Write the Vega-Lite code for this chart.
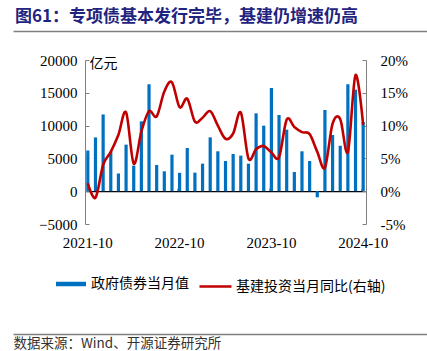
{
  "$schema": "https://vega.github.io/schema/vega-lite/v6.json",
  "width": 281,
  "height": 164,
  "autosize": {"type": "none"},
  "padding": {"left": 85, "top": 60, "right": 61, "bottom": 127},
  "background": "white",
  "config": {"view": {"stroke": null}, "axis": {"grid": false}},
  "title": {
    "text": "图61：专项债基本发行完毕，基建仍增速仍高",
    "anchor": "start",
    "frame": "group",
    "font": "Noto Sans CJK SC",
    "fontSize": 17,
    "fontWeight": "bold",
    "color": "#1F2480",
    "dx": -70,
    "offset": 5
  },
  "data": {
    "values": [
      {"month": "2021-10", "bond": 6200, "infra": 1.2},
      {"month": "2021-11", "bond": 8200, "infra": -1.0},
      {"month": "2021-12", "bond": 11700, "infra": 4.0},
      {"month": "2022-01", "bond": 6000, "infra": 6.0},
      {"month": "2022-02", "bond": 2700, "infra": 8.6},
      {"month": "2022-03", "bond": 7100, "infra": 12.0},
      {"month": "2022-04", "bond": 3900, "infra": 4.2},
      {"month": "2022-05", "bond": 10650, "infra": 9.1},
      {"month": "2022-06", "bond": 16300, "infra": 12.2},
      {"month": "2022-07", "bond": 4000, "infra": 11.4},
      {"month": "2022-08", "bond": 3030, "infra": 15.2},
      {"month": "2022-09", "bond": 5570, "infra": 16.6},
      {"month": "2022-10", "bond": 2800, "infra": 12.8},
      {"month": "2022-11", "bond": 6590, "infra": 14.1},
      {"month": "2022-12", "bond": 2830, "infra": 10.6},
      {"month": "2023-01", "bond": 4200, "infra": 11.2},
      {"month": "2023-02", "bond": 8210, "infra": 12.2},
      {"month": "2023-03", "bond": 6080, "infra": 10.0},
      {"month": "2023-04", "bond": 4600, "infra": 8.0},
      {"month": "2023-05", "bond": 5670, "infra": 8.8},
      {"month": "2023-06", "bond": 5420, "infra": 12.0},
      {"month": "2023-07", "bond": 4200, "infra": 5.0},
      {"month": "2023-08", "bond": 11870, "infra": 6.4},
      {"month": "2023-09", "bond": 9990, "infra": 6.9},
      {"month": "2023-10", "bond": 15730, "infra": 5.9},
      {"month": "2023-11", "bond": 11620, "infra": 5.2},
      {"month": "2023-12", "bond": 9380, "infra": 10.9},
      {"month": "2024-01", "bond": 2930, "infra": 9.8},
      {"month": "2024-02", "bond": 6080, "infra": 9.0},
      {"month": "2024-03", "bond": 4600, "infra": 8.7},
      {"month": "2024-04", "bond": -930, "infra": 6.0},
      {"month": "2024-05", "bond": 12380, "infra": 3.6},
      {"month": "2024-06", "bond": 8570, "infra": 10.3},
      {"month": "2024-07", "bond": 6940, "infra": 11.0},
      {"month": "2024-08", "bond": 16300, "infra": 6.0},
      {"month": "2024-09", "bond": 15480, "infra": 17.7},
      {"month": "2024-10", "bond": 10550, "infra": 10.1}
    ]
  },
  "layer": [
    {
      "layer": [
        {
          "mark": {"type": "bar", "size": 3.2},
          "encoding": {
            "x": {
              "field": "month",
              "type": "ordinal",
              "sort": null,
              "scale": {"paddingInner": 0.5, "paddingOuter": 0.12},
              "axis": {
                "orient": "bottom",
                "offset": -32.8,
                "values": ["2022-10", "2023-10", "2024-10"],
                "bandPosition": 0,
                "labels": false,
                "title": null,
                "domainColor": "#000000",
                "domainWidth": 1.2,
                "tickColor": "#999999",
                "tickSize": -3
              }
            },
            "y": {
              "field": "bond",
              "type": "quantitative",
              "scale": {"domain": [-5000, 20000], "nice": false, "zero": false},
              "axis": {
                "orient": "left",
                "values": [-5000, 0, 5000, 10000, 15000, 20000],
                "format": "d",
                "domainColor": "#808080",
                "tickColor": "#808080",
                "tickSize": -4,
                "labelPadding": 12,
                "labelFont": "Liberation Serif",
                "labelFontSize": 15,
                "labelColor": "#000000",
                "title": "亿元",
                "titleAngle": 0,
                "titleX": 4,
                "titleY": 3,
                "titleAlign": "left",
                "titleBaseline": "middle",
                "titleFont": "Noto Sans CJK SC",
                "titleFontSize": 14,
                "titleFontWeight": "normal",
                "titleColor": "#000000"
              }
            },
            "color": {
              "datum": "政府债券当月值",
              "scale": {"range": ["#0070C0"]},
              "legend": {
                "orient": "none",
                "legendX": -29,
                "legendY": 209,
                "title": null,
                "padding": 0,
                "symbolType": "M-1,-0.15H1V0.15H-1Z",
                "symbolSize": 900,
                "symbolStrokeWidth": 0,
                "labelOffset": 5,
                "labelFont": "Noto Sans CJK SC",
                "labelFontSize": 14,
                "labelColor": "#000000"
              }
            }
          }
        },
        {
          "mark": {"type": "line", "interpolate": "cardinal", "strokeWidth": 2.6},
          "encoding": {
            "x": {
              "field": "month",
              "type": "ordinal",
              "sort": null,
              "axis": {
                "orient": "bottom",
                "values": ["2021-10", "2022-10", "2023-10", "2024-10"],
                "domain": false,
                "ticks": false,
                "tickSize": 0,
                "labelPadding": 11,
                "labelAngle": 0,
                "labelFont": "Liberation Serif",
                "labelFontSize": 15,
                "labelColor": "#000000",
                "title": null
              }
            },
            "y": {
              "field": "infra",
              "type": "quantitative",
              "scale": {"domain": [-5, 20], "nice": false, "zero": false},
              "axis": {
                "orient": "right",
                "values": [-5, 0, 5, 10, 15, 20],
                "labelExpr": "datum.value + '%'",
                "domainColor": "#808080",
                "tickColor": "#808080",
                "tickSize": -4,
                "labelPadding": 18,
                "labelFont": "Liberation Serif",
                "labelFontSize": 15,
                "labelColor": "#000000",
                "title": null
              }
            },
            "stroke": {
              "datum": "基建投资当月同比(右轴)",
              "scale": {"range": ["#C00000"]},
              "legend": {
                "orient": "none",
                "legendX": 113,
                "legendY": 209,
                "title": null,
                "padding": 0,
                "symbolType": "stroke",
                "symbolSize": 1024,
                "symbolStrokeWidth": 2.5,
                "labelOffset": 3,
                "labelFont": "Noto Sans CJK SC",
                "labelFontSize": 14,
                "labelColor": "#000000"
              }
            }
          }
        }
      ],
      "resolve": {"scale": {"y": "independent"}, "axis": {"x": "independent"}}
    },
    {
      "mark": {"type": "point", "opacity": 0},
      "encoding": {
        "x": {
          "field": "bond",
          "type": "quantitative",
          "scale": {"domain": [0, 1], "range": [-72, 342]},
          "axis": {
            "orient": "top",
            "offset": 29,
            "domainColor": "#7F7F7F",
            "domainWidth": 1.5,
            "ticks": false,
            "labels": false,
            "title": null
          }
        }
      }
    },
    {
      "mark": {"type": "point", "opacity": 0},
      "encoding": {
        "x": {
          "field": "infra",
          "type": "quantitative",
          "scale": {"domain": [0, 1], "range": [-72, 342]},
          "axis": {
            "orient": "bottom",
            "offset": 110,
            "domainColor": "#7F7F7F",
            "domainWidth": 1.5,
            "ticks": false,
            "labels": false,
            "title": "数据来源：Wind、开源证券研究所",
            "titleX": -72,
            "titleY": 9.5,
            "titleAlign": "left",
            "titleBaseline": "middle",
            "titleFont": "Noto Sans CJK SC",
            "titleFontSize": 13.5,
            "titleFontWeight": "normal",
            "titleColor": "#333333"
          }
        }
      }
    }
  ],
  "resolve": {"scale": {"x": "independent"}, "axis": {"x": "independent"}}
}
